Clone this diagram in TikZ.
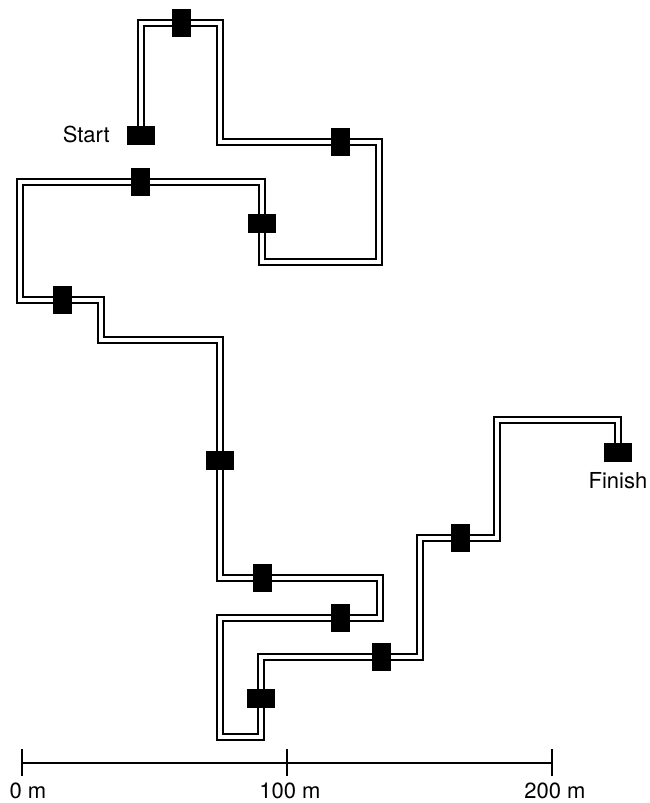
\documentclass[tikz,border=0pt]{standalone}
\usepackage{fontspec}
\setmainfont{TeX Gyre Heros}
\begin{document}
\begin{tikzpicture}[x=1pt,y=-1pt,
  track/.style={draw=black,line width=1.7pt,double=white,double distance=4pt,line join=miter},
  tallmark/.style={fill=black,draw=none,rectangle,inner sep=0pt,minimum width=19pt,minimum height=28pt},
  widemark/.style={fill=black,draw=none,rectangle,inner sep=0pt,minimum width=28pt,minimum height=19pt},
  lbl/.style={inner sep=0pt,font=\fontsize{22}{26}\selectfont},
  bar/.style={line width=2pt}]
\useasboundingbox (0,0) rectangle (650,803);
% markers positions
\coordinate (p1) at (141,135);
\coordinate (p2) at (181,23);
\coordinate (p3) at (340,142);
\coordinate (p4) at (262,223);
\coordinate (p5) at (140,182);
\coordinate (p6) at (62,300);
\coordinate (p7) at (220,460);
\coordinate (p8) at (262,578);
\coordinate (p9) at (340,618);
\coordinate (p10) at (261,698);
\coordinate (p11) at (381,657);
\coordinate (p12) at (460,538);
\coordinate (p13) at (618,452);
% corners
\coordinate (c1) at (141,23);
\coordinate (c2) at (220,23);
\coordinate (c3) at (220,142);
\coordinate (c4) at (379,142);
\coordinate (c5) at (379,262);
\coordinate (c6) at (262,262);
\coordinate (c7) at (262,182);
\coordinate (c8) at (20,182);
\coordinate (c9) at (20,300);
\coordinate (c10) at (101,300);
\coordinate (c11) at (101,340);
\coordinate (c12) at (220,340);
\coordinate (c13) at (220,578);
\coordinate (c14) at (380,578);
\coordinate (c15) at (380,618);
\coordinate (c16) at (220,618);
\coordinate (c17) at (220,737);
\coordinate (c18) at (261,737);
\coordinate (c19) at (261,657);
\coordinate (c20) at (420,657);
\coordinate (c21) at (420,538);
\coordinate (c22) at (497,538);
\coordinate (c23) at (497,420);
\coordinate (c24) at (618,420);
% track
\draw[track] (p1) -- (c1) -- (c2) -- (c3) -- (c4) -- (c5) -- (c6) -- (c7) -- (c8) -- (c9) -- (c10) -- (c11) -- (c12) -- (c13) -- (c14) -- (c15) -- (c16) -- (c17) -- (c18) -- (c19) -- (c20) -- (c21) -- (c22) -- (c23) -- (c24) -- (p13);
% markers
\node[widemark] (m1) at (p1) {};
\node[tallmark] (m2) at (p2) {};
\node[tallmark] (m3) at (p3) {};
\node[widemark] (m4) at (p4) {};
\node[tallmark] (m5) at (p5) {};
\node[tallmark] (m6) at (p6) {};
\node[widemark] (m7) at (p7) {};
\node[tallmark] (m8) at (p8) {};
\node[tallmark] (m9) at (p9) {};
\node[widemark] (m10) at (p10) {};
\node[tallmark] (m11) at (p11) {};
\node[tallmark] (m12) at (p12) {};
\node[widemark] (m13) at (p13) {};
% labels
\node[lbl,anchor=base east] (start) at (110,142) {Start};
\node[lbl,anchor=base] (finish) at (618,488) {Finish};
% scale bar
\coordinate (s0) at (22,763);
\coordinate (s1) at (287,763);
\coordinate (s2) at (552,763);
\draw[bar] (s0) -- (s2);
\draw[bar] ([yshift=-13pt]s0) -- ([yshift=14pt]s0);
\draw[bar] ([yshift=-13pt]s1) -- ([yshift=14pt]s1);
\draw[bar] ([yshift=-13pt]s2) -- ([yshift=14pt]s2);
\node[lbl,anchor=base] (l0) at (28,798) {0 m};
\node[lbl,anchor=base] (l1) at (290,798) {100 m};
\node[lbl,anchor=base] (l2) at (555,798) {200 m};
\end{tikzpicture}
\end{document}
